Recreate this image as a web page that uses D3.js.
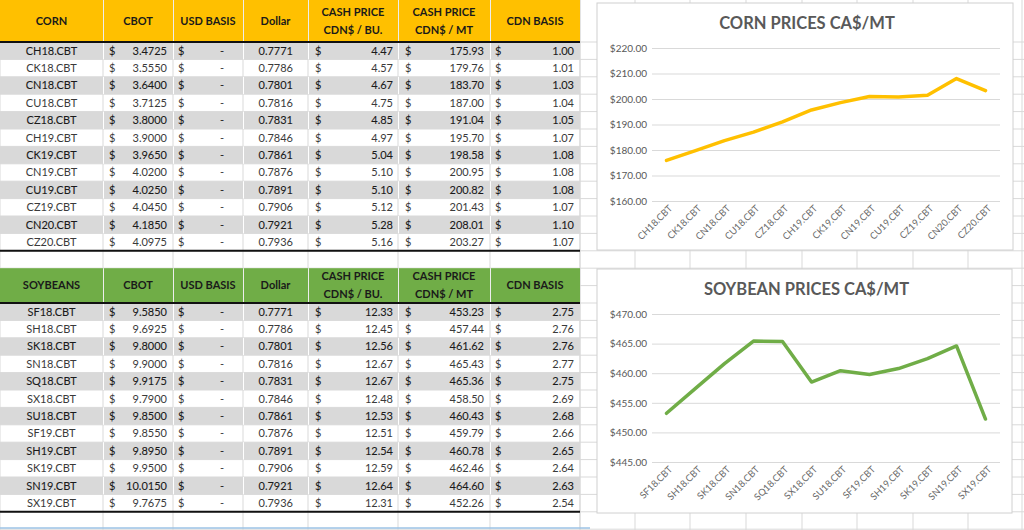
<!DOCTYPE html>
<html><head><meta charset="utf-8">
<script src="https://cdn.jsdelivr.net/npm/d3@7"></script>
<style>
html,body{margin:0;padding:0;background:#fff;}
svg{display:block;font-family:Lato,"Open Sans",sans-serif;}
</style></head>
<body>
<svg id="c" width="1024" height="530"></svg>
<script>
// ---------- DATA ----------
const headers = ["CBOT","USD BASIS","Dollar","CASH PRICE|CDN$ / BU.","CASH PRICE|CDN$ / MT","CDN BASIS"];

const cornContracts = ["CH18.CBT","CK18.CBT","CN18.CBT","CU18.CBT","CZ18.CBT","CH19.CBT","CK19.CBT","CN19.CBT","CU19.CBT","CZ19.CBT","CN20.CBT","CZ20.CBT"];
const cornCbot   = [3.4725,3.5550,3.6400,3.7125,3.8000,3.9000,3.9650,4.0200,4.0250,4.0450,4.1850,4.0975];
const cornDollar = [0.7771,0.7786,0.7801,0.7816,0.7831,0.7846,0.7861,0.7876,0.7891,0.7906,0.7921,0.7936];
const cornCashBu = [4.47,4.57,4.67,4.75,4.85,4.97,5.04,5.10,5.10,5.12,5.28,5.16];
const cornCashMt = [175.93,179.76,183.70,187.00,191.04,195.70,198.58,200.95,200.82,201.43,208.01,203.27];
const cornBasis  = [1.00,1.01,1.03,1.04,1.05,1.07,1.08,1.08,1.08,1.07,1.10,1.07];
const cornTicks  = [160,170,180,190,200,210,220];

const soyContracts = ["SF18.CBT","SH18.CBT","SK18.CBT","SN18.CBT","SQ18.CBT","SX18.CBT","SU18.CBT","SF19.CBT","SH19.CBT","SK19.CBT","SN19.CBT","SX19.CBT"];
const soyCbot   = [9.5850,9.6925,9.8000,9.9000,9.9175,9.7900,9.8500,9.8550,9.8950,9.9500,10.0150,9.7675];
const soyDollar = [0.7771,0.7786,0.7801,0.7816,0.7831,0.7846,0.7861,0.7876,0.7891,0.7906,0.7921,0.7936];
const soyCashBu = [12.33,12.45,12.56,12.67,12.67,12.48,12.53,12.51,12.54,12.59,12.64,12.31];
const soyCashMt = [453.23,457.44,461.62,465.43,465.36,458.50,460.43,459.79,460.78,462.46,464.60,452.26];
const soyBasis  = [2.75,2.76,2.76,2.77,2.75,2.69,2.68,2.66,2.65,2.64,2.63,2.54];
const soyTicks  = [445,450,455,460,465,470];

// ---------- LAYOUT ----------
const svg = d3.select("#c");
const RH = 17.4;
const colB = [0,103,173,243,308,398,490,580];
const gridRight = [580,635,690,746,802,857,913,968,1022];
const f4 = d3.format(".4f"), f2 = d3.format(".2f");

// background spreadsheet grid
const bg = svg.append("g");
const hLines = d3.range(0, 30).map(k => 42 + RH*k).filter(y => y < 530);
bg.selectAll(".hl").data(hLines).join("line")
  .attr("x1",0).attr("x2",1024).attr("y1",d=>d).attr("y2",d=>d)
  .attr("stroke","#d9d9d9").attr("stroke-width",1);
bg.selectAll(".vl").data(colB.concat(gridRight)).join("line")
  .attr("x1",d=>d).attr("x2",d=>d).attr("y1",0).attr("y2",530)
  .attr("stroke","#d9d9d9").attr("stroke-width",1);

function drawTable(top, headH, title, headColor, contracts, cbot, dollar, cashBu, cashMt, basis) {
  const g = svg.append("g");
  g.append("rect").attr("x",0).attr("y",top).attr("width",580).attr("height",headH).attr("fill",headColor);
  g.selectAll(".hs").data(colB.slice(1,-1)).join("line")
    .attr("x1",d=>d+0.5).attr("x2",d=>d+0.5).attr("y1",top).attr("y2",top+headH)
    .attr("stroke","#ededed").attr("stroke-width",1);
  const labels = [title].concat(headers);
  labels.forEach((lab,i) => {
    const cx = (colB[i]+colB[i+1])/2;
    const parts = lab.split("|");
    const cy = top + headH/2;
    parts.forEach((p,j) => {
      const y = parts.length === 1 ? cy : cy + (j === 0 ? -9 : 9);
      g.append("text").attr("x",cx).attr("y",y).attr("dy","0.35em")
        .attr("text-anchor","middle").attr("font-weight","bold").attr("font-size",11)
        .attr("fill","#1a1a1a").text(p);
    });
  });
  const y0 = top + headH;
  contracts.forEach((c,i) => {
    const ry = y0 + RH*i;
    const gray = i % 2 === 0;
    if (gray) {
      g.append("rect").attr("x",0).attr("y",ry).attr("width",580).attr("height",RH).attr("fill","#d9d9d9");
      colB.slice(1,-1).forEach(x => g.append("line").attr("x1",x+0.5).attr("x2",x+0.5).attr("y1",ry).attr("y2",ry+RH).attr("stroke","#fff"));
    }
    const ty = ry + RH/2;
    const col = gray ? "#1a1a1a" : "#3a3a3a";
    const t = (x, anchor, txt) => g.append("text").attr("x",x).attr("y",ty).attr("dy","0.36em")
      .attr("text-anchor",anchor).attr("font-size",11).attr("fill",col)
      .attr("stroke",gray?col:"none").attr("stroke-width",gray?0.1:0).text(txt);
    t(51.5,"middle",c);
    t(109,"start","$"); t(167,"end",f4(cbot[i]));
    t(178,"start","$"); t(222,"middle","-");
    t(293,"end",f4(dollar[i]));
    t(315,"start","$"); t(393,"end",f2(cashBu[i]));
    t(405,"start","$"); t(484,"end",f2(cashMt[i]));
    t(495,"start","$"); t(574,"end",f2(basis[i]));
  });
  g.append("line").attr("x1",0).attr("x2",580).attr("y1",y0).attr("y2",y0).attr("stroke","#111").attr("stroke-width",2);
  const yb = y0 + RH*contracts.length;
  g.append("line").attr("x1",0).attr("x2",580).attr("y1",yb).attr("y2",yb).attr("stroke","#111").attr("stroke-width",2);
}

drawTable(0, 42, "CORN", "#FFC000", cornContracts, cornCbot, cornDollar, cornCashBu, cornCashMt, cornBasis);
drawTable(42 + RH*13, RH*2, "SOYBEANS", "#70AD47", soyContracts, soyCbot, soyDollar, soyCashBu, soyCashMt, soyBasis);

svg.append("line").attr("x1",0).attr("x2",590).attr("y1",528).attr("y2",528).attr("stroke","#9DC3E6").attr("stroke-width",1.5);

function drawChart(box, title, cats, vals, ticks, color, plotTop, plotBottom) {
  const g = svg.append("g");
  g.append("rect").attr("x",box.x).attr("y",box.y).attr("width",box.w).attr("height",box.h)
    .attr("fill","#fff").attr("stroke","#d0d0d0").attr("stroke-width",1);
  g.append("text").attr("x",box.x+box.w/2+2).attr("y",box.y+20).attr("dy","0.35em")
    .attr("text-anchor","middle").attr("font-weight","bold").attr("font-size",16.5)
    .attr("fill","#595959").text(title);
  const x = d3.scalePoint().domain(cats).range([652,1000]).padding(0.5);
  const y = d3.scaleLinear().domain(d3.extent(ticks)).range([plotBottom, plotTop]);
  const yAxis = d3.axisLeft(y).tickValues(ticks).tickSize(-(1000-652)).tickPadding(5)
    .tickFormat(d => "$" + d3.format(".2f")(d));
  const ya = g.append("g").attr("transform","translate(652,0)").call(yAxis);
  ya.select(".domain").remove();
  ya.selectAll(".tick line").attr("stroke","#d9d9d9");
  ya.selectAll(".tick text").attr("font-size",10).attr("fill","#595959").attr("font-family","Lato,sans-serif");
  const xAxis = d3.axisBottom(x).tickSize(0).tickPadding(0);
  const xa = g.append("g").attr("transform",`translate(0,${plotBottom})`).call(xAxis);
  xa.select(".domain").remove();
  xa.selectAll(".tick text").attr("font-size",9.5).attr("fill","#6a6a6a").attr("font-family","Lato,sans-serif")
    .attr("text-anchor","end").attr("dy",0).attr("y",0)
    .attr("transform","translate(6,8) rotate(-45)");
  const line = d3.line().x((d,i)=>x(cats[i])).y(d=>y(d));
  g.append("path").datum(vals).attr("d",line).attr("fill","none")
    .attr("stroke",color).attr("stroke-width",3.5).attr("stroke-linejoin","round").attr("stroke-linecap","round");
}

drawChart({x:597,y:3,w:416,h:247}, "CORN PRICES CA$/MT", cornContracts, cornCashMt, cornTicks, "#FFC000", 48, 201);
drawChart({x:597,y:269,w:415,h:244}, "SOYBEAN PRICES CA$/MT", soyContracts, soyCashMt, soyTicks, "#70AD47", 314, 462);
</script>
</body></html>
